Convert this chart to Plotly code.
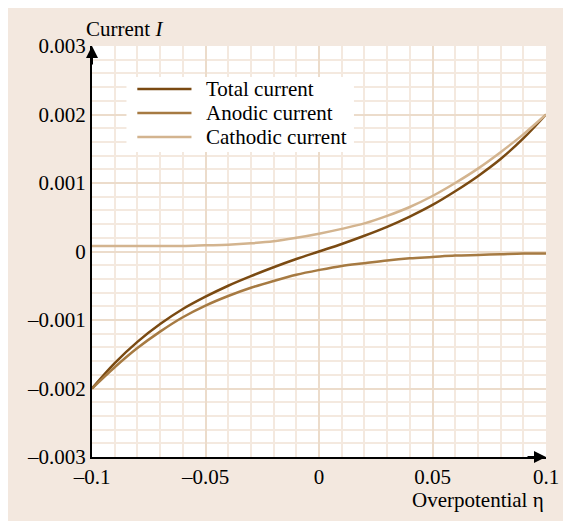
import plotly.graph_objects as go

eta = [-0.10, -0.09, -0.08, -0.07, -0.06, -0.05, -0.04, -0.03, -0.02, -0.01, 0.00,
       0.01, 0.02, 0.03, 0.04, 0.05, 0.06, 0.07, 0.08, 0.09, 0.10]

total_current = [-0.00200, -0.00163, -0.00132, -0.00106, -0.00084, -0.00066, -0.00050,
                 -0.00036, -0.00023, -0.00011, 0.00000, 0.00011, 0.00023, 0.00036,
                 0.00051, 0.00068, 0.00088, 0.00110, 0.00135, 0.00165, 0.00200]

anodic_current = [-0.00200, -0.00169, -0.00141, -0.00117, -0.00096, -0.00079, -0.00065,
                  -0.00053, -0.00043, -0.00034, -0.00027, -0.00021, -0.00017, -0.00013,
                  -0.00010, -0.00008, -0.00006, -0.00005, -0.00004, -0.00003, -0.00003]

cathodic_current = [0.00008, 0.00008, 0.00008, 0.00008, 0.00008, 0.00009, 0.00010,
                    0.00012, 0.00015, 0.00020, 0.00026, 0.00033, 0.00041, 0.00052,
                    0.00065, 0.00081, 0.00100, 0.00121, 0.00145, 0.00171, 0.00200]

x_tick_vals = [-0.1, -0.05, 0, 0.05, 0.1]
x_tick_text = ["\u20130.1", "\u20130.05", "0", "0.05", "0.1"]
y_tick_vals = [-0.003, -0.002, -0.001, 0, 0.001, 0.002, 0.003]
y_tick_text = ["\u20130.003", "\u20130.002", "\u20130.001", "0", "0.001", "0.002", "0.003"]

series_names = ["Total current", "Anodic current", "Cathodic current"]
series_values = [total_current, anodic_current, cathodic_current]
series_colors = ["#7a4a12", "#a67a42", "#d3b48f"]

FONT = "Liberation Serif"
BEIGE = "#f3e8df"

fig = go.Figure()
for name, vals, col in zip(series_names, series_values, series_colors):
    fig.add_trace(go.Scatter(x=eta, y=vals, mode="lines", name=name, showlegend=False,
                             line=dict(color=col, width=2.5, shape="spline", smoothing=1.0)))

grid_minor = "#f4e9df"
grid_major = "#ecdccb"

fig.update_xaxes(range=[-0.1, 0.1], tickvals=x_tick_vals, ticktext=x_tick_text,
                 showgrid=True, gridcolor=grid_major, gridwidth=2,
                 minor=dict(dtick=0.01, tick0=0, showgrid=True, gridcolor=grid_minor, gridwidth=2),
                 zeroline=False, showline=True, linecolor="black", linewidth=2,
                 ticks="", tickfont=dict(family=FONT, size=21, color="black"))
fig.update_yaxes(range=[-0.003, 0.003], tickvals=y_tick_vals, ticktext=y_tick_text,
                 showgrid=True, gridcolor=grid_major, gridwidth=2,
                 minor=dict(dtick=0.0002, tick0=0, showgrid=True, gridcolor=grid_minor, gridwidth=2),
                 zeroline=False, showline=True, linecolor="black", linewidth=2,
                 ticks="", tickfont=dict(family=FONT, size=21, color="black"))

# Custom legend (white box, long line samples, text)
shapes = [dict(type="rect", xref="paper", yref="paper", x0=0.0759, x1=0.5770,
               y0=0.7421, y1=0.9245, fillcolor="white", line=dict(width=0), layer="above")]
annotations = []
row_y = [0.8954, 0.8370, 0.7786]
for name, col, ry in zip(series_names, series_colors, row_y):
    shapes.append(dict(type="line", xref="paper", yref="paper", x0=0.0998, x1=0.2191,
                       y0=ry, y1=ry, line=dict(color=col, width=2.5), layer="above"))
    annotations.append(dict(x=0.2473, y=ry, xref="paper", yref="paper", xanchor="left",
                            yanchor="middle", showarrow=False, text=name,
                            font=dict(family=FONT, size=21, color="black")))

annotations += [
    dict(x=-0.1, y=0.003, xref="x", yref="y", ax=0, ay=20, showarrow=True,
         arrowhead=2, arrowsize=1.2, arrowwidth=2, arrowcolor="black", text=""),
    dict(x=0.1, y=-0.003, xref="x", yref="y", ax=-20, ay=0, showarrow=True,
         arrowhead=2, arrowsize=1.2, arrowwidth=2, arrowcolor="black", text=""),
    dict(x=-0.1, y=1.0, xref="x", yref="paper", xanchor="left", yanchor="bottom",
         xshift=-8, yshift=3, showarrow=False, text="Current <i>I</i>",
         font=dict(family=FONT, size=21, color="black")),
    dict(x=1.0, y=0, xref="paper", yref="paper", xanchor="right", yanchor="top",
         yshift=-29, xshift=0, showarrow=False, text="Overpotential \u03b7",
         font=dict(family=FONT, size=21, color="black")),
]

fig.update_layout(
    width=563, height=521, autosize=False,
    margin=dict(l=84, r=18, t=38, b=72),
    paper_bgcolor=BEIGE, plot_bgcolor="white",
    font=dict(family=FONT, size=21, color="black"),
    showlegend=False,
    shapes=shapes,
    annotations=annotations,
)

fig.write_html("out.html",
               config={"responsive": False},
               post_script="document.body.style.margin='8px 0 0 8px';"
                           "document.documentElement.style.overflow='hidden';")
